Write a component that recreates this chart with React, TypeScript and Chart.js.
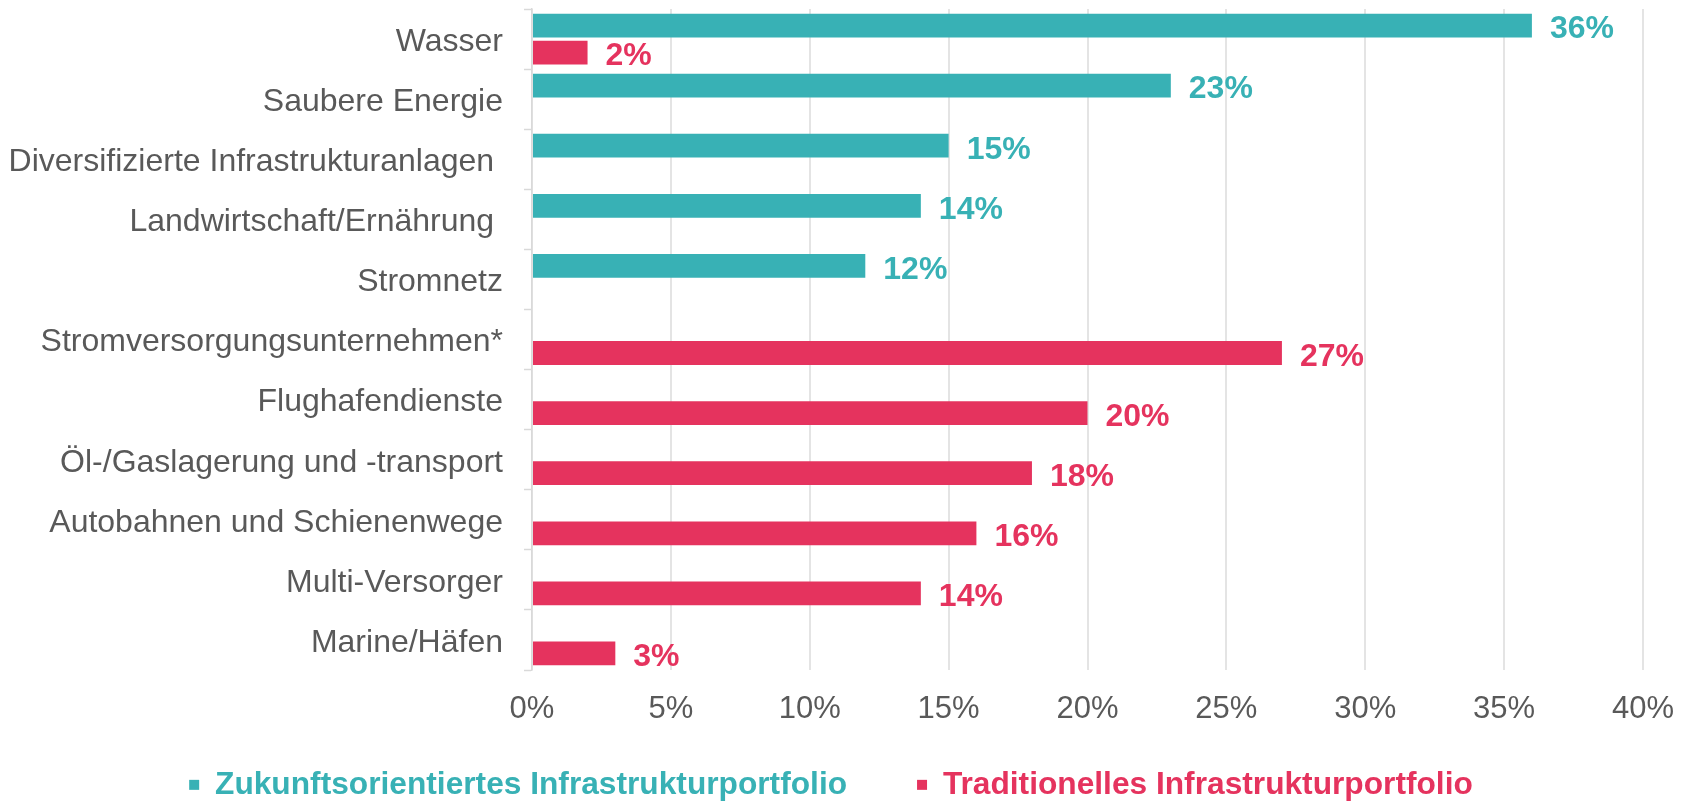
import React, { useEffect, useRef } from 'react';
import { Chart, registerables } from 'chart.js';

Chart.register(...registerables);

const categories = [
  'Wasser',
  'Saubere Energie',
  'Diversifizierte Infrastrukturanlagen ',
  'Landwirtschaft/Ernährung ',
  'Stromnetz',
  'Stromversorgungsunternehmen*',
  'Flughafendienste',
  'Öl-/Gaslagerung und -transport',
  'Autobahnen und Schienenwege',
  'Multi-Versorger',
  'Marine/Häfen',
];

const futureValues = [36, 23, 15, 14, 12, null, null, null, null, null, null];
const traditionalValues = [2, null, null, null, null, 27, 20, 18, 16, 14, 3];

const seriesNames = [
  'Zukunftsorientiertes Infrastrukturportfolio',
  'Traditionelles Infrastrukturportfolio',
];
const seriesColors = ['#38B1B5', '#E5335E'];

const xTickValues = [0, 5, 10, 15, 20, 25, 30, 35, 40];

const FONT = '"Liberation Sans", Arial, Helvetica, sans-serif';
const TEXT_GREY = '#595959';

const valueLabels = {
  id: 'valueLabels',
  afterDatasetsDraw(chart: any) {
    const ctx = chart.ctx;
    ctx.save();
    ctx.font = `bold 32px ${FONT}`;
    ctx.textAlign = 'left';
    ctx.textBaseline = 'middle';
    chart.data.datasets.forEach((ds: any, i: number) => {
      const meta = chart.getDatasetMeta(i);
      meta.data.forEach((el: any, j: number) => {
        const v = ds.data[j];
        if (v === null || v === undefined) return;
        ctx.fillStyle = ds.backgroundColor;
        ctx.fillText(`${v}%`, el.x + 18, el.y + 4);
      });
    });
    ctx.restore();
  },
};

const noLabelClip = {
  id: 'noLabelClip',
  afterLayout(chart: any) {
    const { x, y } = chart.scales;
    if (x) x._computeLabelArea = () => undefined;
    if (y) y._computeLabelArea = () => undefined;
  },
};

export default function App() {
  const canvasRef = useRef<HTMLCanvasElement | null>(null);

  useEffect(() => {
    if (!canvasRef.current) return;
    const chart = new Chart(canvasRef.current, {
      type: 'bar',
      data: {
        labels: categories,
        datasets: [
          {
            label: seriesNames[0],
            data: futureValues,
            backgroundColor: seriesColors[0],
            categoryPercentage: 0.9,
            barPercentage: 0.88,
          },
          {
            label: seriesNames[1],
            data: traditionalValues,
            backgroundColor: seriesColors[1],
            categoryPercentage: 0.9,
            barPercentage: 0.88,
          },
        ],
      },
      options: {
        indexAxis: 'y',
        animation: false,
        responsive: true,
        maintainAspectRatio: false,
        layout: { padding: { left: 19, right: 47, top: 9, bottom: 0 } },
        scales: {
          x: {
            type: 'linear',
            min: 0,
            max: 40,
            afterBuildTicks: (s: any) => {
              s.ticks = xTickValues.map((v) => ({ value: v }));
            },
            afterFit: (s: any) => {
              s.height = 29;
              s.paddingLeft = 0;
              s.paddingRight = 0;
            },
            ticks: {
              callback: (v: any) => `${v}%`,
              color: TEXT_GREY,
              font: { family: FONT, size: 31 },
              padding: 21,
              maxRotation: 0,
            },
            grid: { color: '#e4e4e4', lineWidth: 2, drawTicks: false },
            border: { display: false },
          },
          y: {
            afterFit: (s: any) => {
              s.width = 513;
              s.paddingTop = 0;
              s.paddingBottom = 0;
            },
            ticks: {
              color: TEXT_GREY,
              font: { family: FONT, size: 32 },
              padding: 21,
              labelOffset: 3,
            },
            grid: {
              drawOnChartArea: false,
              drawTicks: true,
              tickLength: 8,
              tickColor: '#d9d9d9',
              tickWidth: 1.5,
            },
            border: { display: true, color: '#d9d9d9', width: 1.5 },
          },
        },
        plugins: {
          tooltip: { enabled: false },
          legend: {
            position: 'bottom',
            maxHeight: 104,
            labels: {
              boxWidth: 10,
              boxHeight: 10,
              padding: 70,
              font: { family: FONT, size: 31.7, weight: 'bold' },
              generateLabels: (c: any) => {
                const items = (Chart as any).defaults.plugins.legend.labels.generateLabels(c);
                items.forEach((it: any, i: number) => {
                  it.fontColor = seriesColors[i];
                  it.lineWidth = 0;
                  it.strokeStyle = 'rgba(0,0,0,0)';
                });
                return items;
              },
            },
          },
        },
      } as any,
      plugins: [valueLabels, noLabelClip],
    });
    return () => chart.destroy();
  }, []);

  return (
    <div style={{ position: 'fixed', left: 0, top: 0, width: 1690, height: 803, background: '#fff' }}>
      <canvas ref={canvasRef} />
    </div>
  );
}
